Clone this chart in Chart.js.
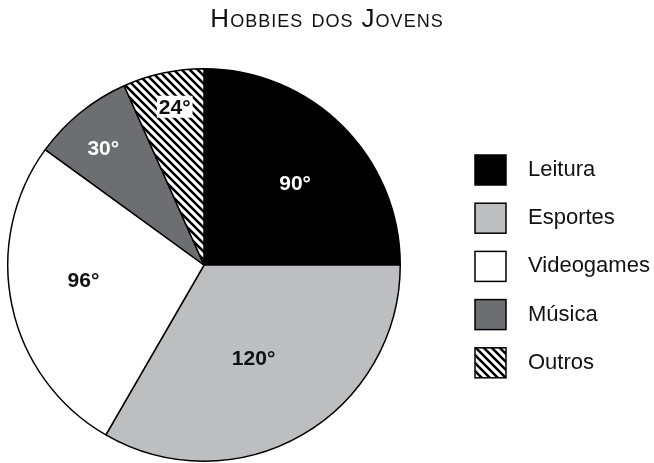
<!DOCTYPE html>
<html>
<head>
<meta charset="utf-8">
<script src="https://cdn.jsdelivr.net/npm/chart.js@4/dist/chart.umd.min.js"></script>
<style>
html,body{margin:0;padding:0;background:#fff;}
#wrap{width:654px;height:463px;}
</style>
</head>
<body>
<div id="wrap"><canvas id="c" width="654" height="463"></canvas></div>
<script>
// ---- data ----
const titleText = 'Hobbies dos Jovens';
const categories = ['Leitura', 'Esportes', 'Videogames', 'Música', 'Outros'];
const degrees = [90, 120, 96, 30, 24];
const sliceLabels = ['90°', '120°', '96°', '30°', '24°'];

// ---- styles ----
function makeHatch() {
  const s = 8;
  const pc = document.createElement('canvas');
  pc.width = s; pc.height = s;
  const g = pc.getContext('2d');
  g.fillStyle = '#fff';
  g.fillRect(0, 0, s, s);
  g.strokeStyle = '#000';
  g.lineWidth = 2.6;
  g.beginPath();
  [-s, 0, s].forEach(c => { g.moveTo(-2, -2 + c); g.lineTo(s + 2, s + 2 + c); });
  g.stroke();
  return document.getElementById('c').getContext('2d').createPattern(pc, 'repeat');
}
const hatch = makeHatch();
const fills = ['#000000', '#bdbec0', '#ffffff', '#6d6e71', hatch];
const labelColors = ['#ffffff', '#111111', '#111111', '#ffffff', '#111111'];
const labelBg = [null, null, null, null, '#ffffff'];
const labelRadius = [0.623, 0.538, 0.619, 0.787, 0.82];
const labelAngleOffset = [3.2, 2, 4.9, -1.7, 1.5];
const FONT = '"Liberation Sans", Arial, Helvetica, sans-serif';

// Right-side layout box that reserves the legend column and draws the legend
const legendColumn = {
  id: 'legendColumn',
  start(chart) {
    const box = {
      position: 'right', weight: 0, fullSize: false, options: {},
      left: 0, top: 0, right: 0, bottom: 0, width: 0, height: 0,
      update(maxW, maxH) { this.width = 246; this.height = maxH; },
      isHorizontal() { return false; },
      draw() {
        const ctx = chart.ctx;
        const x0 = this.left + 67;
        ctx.save();
        ctx.letterSpacing = '0px';
        ctx.font = '22px ' + FONT;
        ctx.textBaseline = 'middle';
        ctx.textAlign = 'left';
        categories.forEach((name, i) => {
          const y = 155 + i * 48.2;
          ctx.fillStyle = fills[i];
          ctx.fillRect(x0, y, 31, 30);
          ctx.lineWidth = 1.5;
          ctx.strokeStyle = '#000';
          ctx.strokeRect(x0, y, 31, 30);
          ctx.fillStyle = '#111';
          ctx.fillText(name, x0 + 53, y + 15);
        });
        ctx.restore();
      }
    };
    Chart.layouts.addBox(chart, box);
  },
  beforeDraw(chart) { chart.ctx.letterSpacing = '1px'; },
  beforeDatasetsDraw(chart) { chart.ctx.letterSpacing = '0px'; }
};

const sliceText = {
  id: 'sliceText',
  afterDatasetsDraw(chart) {
    const ctx = chart.ctx;
    const meta = chart.getDatasetMeta(0);
    ctx.save();
    ctx.letterSpacing = '0px';
    ctx.font = 'bold 21px ' + FONT;
    ctx.textAlign = 'center';
    ctx.textBaseline = 'middle';
    meta.data.forEach((arc, i) => {
      const p = arc.getProps(['x', 'y', 'startAngle', 'endAngle', 'outerRadius'], true);
      const a = (p.startAngle + p.endAngle) / 2 + labelAngleOffset[i] * Math.PI / 180;
      const r = p.outerRadius * labelRadius[i];
      const x = p.x + Math.cos(a) * r;
      const y = p.y + Math.sin(a) * r;
      const t = sliceLabels[i];
      if (labelBg[i]) {
        const w = ctx.measureText(t).width;
        ctx.fillStyle = labelBg[i];
        ctx.fillRect(x - w / 2 - 2, y - 11, w + 4, 22);
      }
      ctx.fillStyle = labelColors[i];
      ctx.fillText(t, x, y + 1);
    });
    ctx.restore();
  }
};

new Chart(document.getElementById('c'), {
  type: 'pie',
  data: {
    labels: categories,
    datasets: [{
      data: degrees,
      backgroundColor: fills,
      borderColor: '#000',
      borderWidth: 1.5,
      borderAlign: 'center'
    }]
  },
  options: {
    responsive: false,
    animation: false,
    events: [],
    layout: { padding: { left: 0, right: 0, top: 0, bottom: 1 } },
    plugins: {
      legend: { display: false },
      tooltip: { enabled: false },
      title: {
        display: true,
        text: titleText,
        color: '#111',
        font: { family: FONT, size: 26, weight: 'small-caps' },
        padding: { top: 4, bottom: 32.8 }
      }
    }
  },
  plugins: [legendColumn, sliceText]
});
</script>
</body>
</html>
